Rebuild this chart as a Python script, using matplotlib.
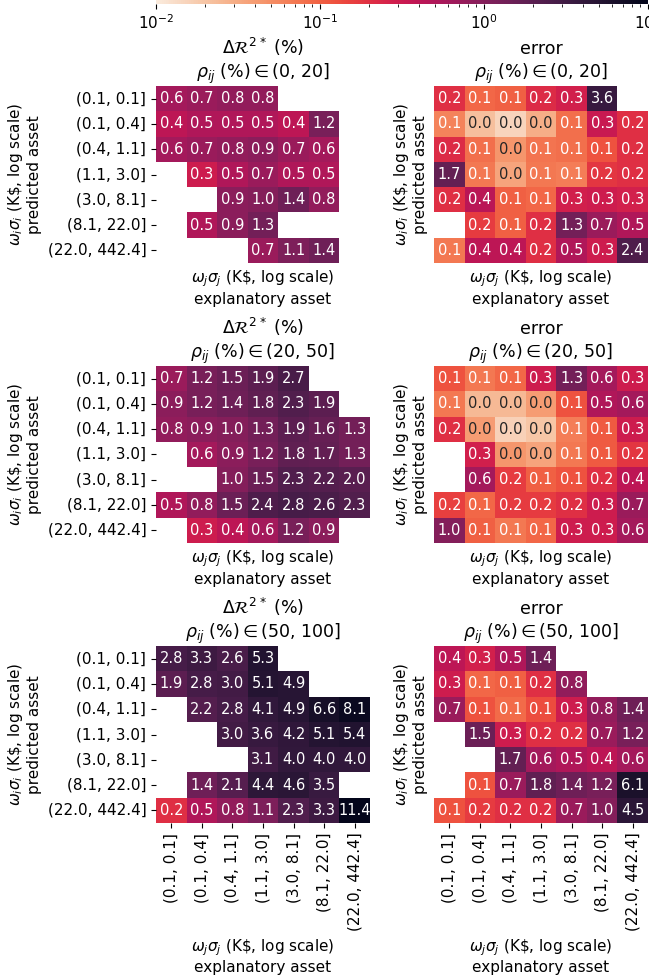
import numpy as np
import matplotlib
matplotlib.use("Agg")
import matplotlib.pyplot as plt
import seaborn as sns
from matplotlib.colors import LogNorm
from matplotlib.cm import ScalarMappable

nan = np.nan

bins = ["(0.1, 0.1]", "(0.1, 0.4]", "(0.4, 1.1]", "(1.1, 3.0]",
        "(3.0, 8.1]", "(8.1, 22.0]", "(22.0, 442.4]"]
rho_bins = ["(0, 20]", "(20, 50]", "(50, 100]"]

# delta R2* (%) per correlation bucket, rows = predicted, cols = explanatory
dr2_0_20 = [
    [0.6, 0.7, 0.8, 0.8, nan, nan, nan],
    [0.4, 0.5, 0.5, 0.5, 0.4, 1.2, nan],
    [0.6, 0.7, 0.8, 0.9, 0.7, 0.6, nan],
    [nan, 0.3, 0.5, 0.7, 0.5, 0.5, nan],
    [nan, nan, 0.9, 1.0, 1.4, 0.8, nan],
    [nan, 0.5, 0.9, 1.3, nan, nan, nan],
    [nan, nan, nan, 0.7, 1.1, 1.4, nan],
]
dr2_20_50 = [
    [0.7, 1.2, 1.5, 1.9, 2.7, nan, nan],
    [0.9, 1.2, 1.4, 1.8, 2.3, 1.9, nan],
    [0.8, 0.9, 1.0, 1.3, 1.9, 1.6, 1.3],
    [nan, 0.6, 0.9, 1.2, 1.8, 1.7, 1.3],
    [nan, nan, 1.0, 1.5, 2.3, 2.2, 2.0],
    [0.5, 0.8, 1.5, 2.4, 2.8, 2.6, 2.3],
    [nan, 0.3, 0.4, 0.6, 1.2, 0.9, nan],
]
dr2_50_100 = [
    [2.8, 3.3, 2.6, 5.3, nan, nan, nan],
    [1.9, 2.8, 3.0, 5.1, 4.9, nan, nan],
    [nan, 2.2, 2.8, 4.1, 4.9, 6.6, 8.1],
    [nan, nan, 3.0, 3.6, 4.2, 5.1, 5.4],
    [nan, nan, nan, 3.1, 4.0, 4.0, 4.0],
    [nan, 1.4, 2.1, 4.4, 4.6, 3.5, nan],
    [0.2, 0.5, 0.8, 1.1, 2.3, 3.3, 11.4],
]

# error per correlation bucket
err_0_20 = [
    [0.2, 0.09, 0.1, 0.22, 0.28, 3.6, nan],
    [0.06, 0.022, 0.015, 0.03, 0.08, 0.33, 0.2],
    [0.22, 0.08, 0.045, 0.075, 0.08, 0.12, 0.2],
    [1.7, 0.07, 0.035, 0.07, 0.065, 0.18, 0.2],
    [0.2, 0.42, 0.1, 0.09, 0.28, 0.3, 0.27],
    [nan, 0.17, 0.1, 0.2, 1.3, 0.7, 0.5],
    [0.07, 0.4, 0.4, 0.2, 0.5, 0.3, 2.4],
]
err_20_50 = [
    [0.12, 0.07, 0.09, 0.3, 1.3, 0.6, 0.3],
    [0.07, 0.025, 0.025, 0.04, 0.12, 0.5, 0.6],
    [0.2, 0.04, 0.016, 0.02, 0.065, 0.11, 0.3],
    [nan, 0.28, 0.045, 0.035, 0.07, 0.11, 0.18],
    [nan, 0.6, 0.17, 0.1, 0.12, 0.2, 0.4],
    [0.16, 0.09, 0.17, 0.17, 0.2, 0.3, 0.7],
    [1.0, 0.1, 0.07, 0.09, 0.3, 0.3, 0.6],
]
err_50_100 = [
    [0.4, 0.27, 0.5, 1.4, nan, nan, nan],
    [0.3, 0.09, 0.1, 0.2, 0.8, nan, nan],
    [0.7, 0.12, 0.085, 0.13, 0.3, 0.8, 1.4],
    [nan, 1.5, 0.3, 0.2, 0.2, 0.7, 1.2],
    [nan, nan, 1.7, 0.6, 0.5, 0.4, 0.6],
    [nan, 0.12, 0.7, 1.8, 1.4, 1.2, 6.1],
    [0.12, 0.17, 0.2, 0.2, 0.7, 1.0, 4.5],
]

dr2_all = [dr2_0_20, dr2_20_50, dr2_50_100]
err_all = [err_0_20, err_20_50, err_50_100]

norm = LogNorm(vmin=0.01, vmax=10)
cmap = "rocket_r"

fig = plt.figure(figsize=(6.49, 9.77), dpi=100)

W, H = 649.0, 977.0
col_left = [156, 434]
row_top = [86, 366, 646]
pw, ph = 214, 177

ylab = "$\\omega_i\\sigma_i$ (K\\$, log scale)\npredicted asset"
xlab = "$\\omega_j\\sigma_j$ (K\\$, log scale)\nexplanatory asset"

for r in range(3):
    for c in range(2):
        ax = fig.add_axes([col_left[c] / W, 1 - (row_top[r] + ph) / H, pw / W, ph / H])
        data = np.array(dr2_all[r] if c == 0 else err_all[r], dtype=float)
        sns.heatmap(data, ax=ax, cmap=cmap, norm=norm, cbar=False,
                    annot=True, fmt=".1f", annot_kws={"fontsize": 10.5},
                    xticklabels=bins if r == 2 else False,
                    yticklabels=bins if c == 0 else False)
        first = r"$\Delta\mathcal{R}^{2*}$ (%)" if c == 0 else "error"
        ax.set_title(first + "\n" + r"$\rho_{ij}$ (%)$\in$" + rho_bins[r], fontsize=12.5)
        ax.set_ylabel(ylab, fontsize=11)
        ax.set_xlabel(xlab, fontsize=11)
        ax.tick_params(labelsize=11)
        if c == 0:
            ax.set_yticklabels(bins, rotation=0)
        if r == 2:
            ax.set_xticklabels(bins, rotation=90)

cax = fig.add_axes([156 / W, 1 - 4 / H, (648 - 156) / W, 20 / H])
cb = fig.colorbar(ScalarMappable(norm=norm, cmap=cmap), cax=cax, orientation="horizontal")
cb.outline.set_visible(False)
cax.tick_params(labelsize=11)

fig.savefig("out.png", dpi=100)
